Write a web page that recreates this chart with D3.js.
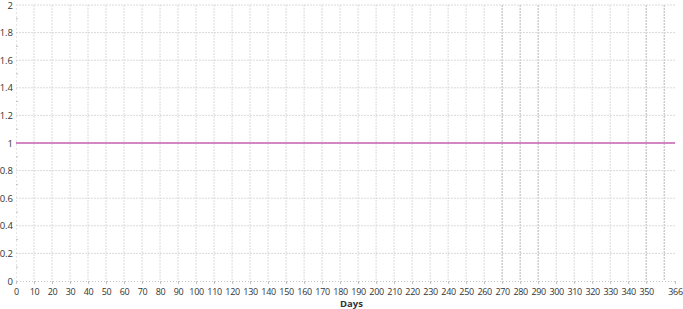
<!DOCTYPE html>
<html>
<head>
<meta charset="utf-8">
<script src="https://cdn.jsdelivr.net/npm/d3@7"></script>
<style>
	body { margin: 0; background: #fff; }
	svg text { font-family: "Open Sans", "Noto Sans", sans-serif; fill: #333; }
</style>
</head>
<body>
<div id="chart"></div>
<script>
// data
const days = [0, 366];
const values = [1, 1];
const xTickValues = d3.range(0, 351, 10).concat([366]);
const yTickValues = [0, 0.2, 0.4, 0.6, 0.8, 1, 1.2, 1.4, 1.6, 1.8, 2];
const markerDays = [270, 280, 290, 350, 360];	// darker dashed verticals
const xLabel = 'Days';

const W = 683, H = 309;
const margin = { top: 5, right: 8, bottom: 28, left: 16 };
const width = W - margin.left - margin.right;
const height = H - margin.top - margin.bottom;

const svg = d3.select('#chart')
	.append('svg')
	.attr('width', W)
	.attr('height', H)
	.append('g')
	.attr('transform', `translate(${margin.left},${margin.top})`);

const x = d3.scaleLinear().domain([0, 366]).range([0, width]);
const y = d3.scaleLinear().domain([0, 2]).range([height, 0]);

// Grid
svg.append('g').selectAll('line')
	.data(d3.range(10, 366, 10))
	.enter().append('line')
	.attr('x1', d => x(d)).attr('x2', d => x(d))
	.attr('y1', 0).attr('y2', height)
	.attr('stroke', d => markerDays.includes(d) ? '#b4b4b4' : '#dadada')
	.attr('stroke-width', 1)
	.attr('stroke-dasharray', '2,1');

svg.append('g').selectAll('line')
	.data(yTickValues.filter(d => d > 0))
	.enter().append('line')
	.attr('x1', 0).attr('x2', width)
	.attr('y1', d => y(d)).attr('y2', d => y(d))
	.attr('stroke', '#dadada')
	.attr('stroke-width', 1)
	.attr('stroke-dasharray', '2,1');

// Axes
const yAxis = svg.append('g')
	.call(d3.axisLeft(y).tickValues(yTickValues).tickSize(0).tickPadding(3).tickFormat(d3.format('')));
yAxis.select('.domain').attr('stroke', '#c8c8c8').attr('stroke-dasharray', '1,3');
yAxis.selectAll('text').style('font-size', '9.5px');

// y minor ticks
svg.append('g').selectAll('line')
	.data(d3.range(0.1, 2, 0.2))
	.enter().append('line')
	.attr('x1', 0).attr('x2', 2)
	.attr('y1', d => y(d)).attr('y2', d => y(d))
	.attr('stroke', '#c0c0c0');

const xAxis = svg.append('g')
	.attr('transform', `translate(0,${height})`)
	.call(d3.axisBottom(x).tickValues(xTickValues).tickSize(3).tickPadding(5));
xAxis.select('.domain').attr('stroke', '#c8c8c8').attr('stroke-dasharray', '1,2');
xAxis.selectAll('.tick line').attr('stroke', '#c0c0c0');
xAxis.selectAll('text').style('font-size', '9px').style('letter-spacing', '-0.3px');

svg.append('text')
	.attr('x', width / 2 + 6)
	.attr('y', height + 26)
	.attr('text-anchor', 'middle')
	.style('font-size', '9.5px')
	.style('font-weight', '700')
	.text(xLabel);

// Series
const line = d3.line().x((d, i) => x(days[i])).y(d => y(d));
svg.append('path')
	.datum(values)
	.attr('fill', 'none')
	.attr('stroke', '#c862b4')
	.attr('stroke-width', 1.5)
	.attr('d', line);
</script>
</body>
</html>
